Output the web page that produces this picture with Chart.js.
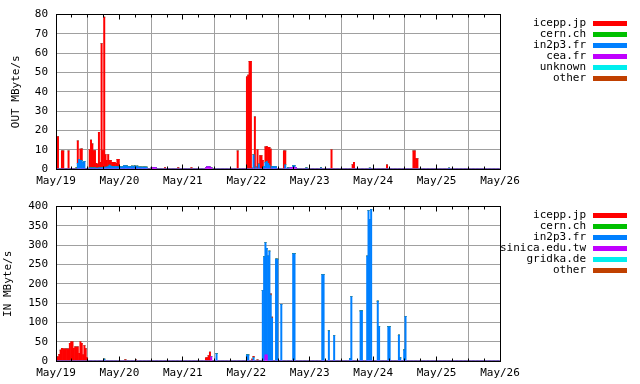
<!DOCTYPE html>
<html><head><meta charset="utf-8">
<script src="https://cdn.jsdelivr.net/npm/chart.js@4.4.1/dist/chart.umd.min.js"></script>
<style>
html,body{margin:0;padding:0;background:#fff;}
#wrap{position:relative;width:640px;height:384px;overflow:hidden;}
.box{position:absolute;left:0;width:640px;height:192px;}
canvas{display:block;}
</style></head><body>
<div id="wrap">
<div class="box" style="top:0"><canvas id="c1" width="640" height="192"></canvas></div>
<div class="box" style="top:192px"><canvas id="c2" width="640" height="192"></canvas></div>
</div>
<script>
// ---- data (30-minute bins, [start hour since May/19 00:00, MByte/s]) ----
const dayLabels = ['May/19','May/20','May/21','May/22','May/23','May/24','May/25','May/26'];
const outNames = ['icepp.jp','cern.ch','in2p3.fr','cea.fr','unknown','other'];
const inNames  = ['icepp.jp','cern.ch','in2p3.fr','sinica.edu.tw','gridka.de','other'];
const seriesColors = ['#ff0000','#00c000','#0080ff','#c000ff','#00eeee','#c04000'];

const outIcepp = [[0,6],[0.5,16.8],[2,9.4],[2.5,9.4],[4.5,9.4],[8,11.6],[9,5.8],[9.5,6.1],
 [12.5,9.4],[13,14.4],[13.5,12.4],[14,8.9],[14.5,8.9],[15,2.5],[15.5,2],[16,18.4],[16.5,2.9],[17,64.2],[17.5,8.7],[18,77.9],[18.5,6.5],[19,3.5],[19.5,6.3],[20,2.5],[20.5,3],[21,2.3],[21.5,2.2],[22,2.3],[22.5,1.7],[23,3.8],[23.5,3.9],
 [41,0.7],[46,0.7],[51,0.8],[68.5,9.4],
 [72,47.7],[72.5,48.6],[73,55.8],[73.5,55.8],[74,0.5],[75,27],[76,10],[77,7],[77.5,7],[78,4.5],[79,8],[79.5,8],[80,8.2],[80.5,9.2],[81,10.3],[86,9.4],[86.5,7.2],
 [104,10],[112,2.3],[112.5,3.4],[125,2.2],[135,9.4],[135.5,9.4],[136,5.4],[136.5,5.4]];
const outCern = [[7.5,0.6]];
const outIn2p3 = [[8,3],[8.5,5],[9,4.5],[9.5,4.3],[10,3.3],[10.5,4],
 [12.5,0.6],[13,0.6],[13.5,0.6],[14,0.6],[14.5,0.6],[15,0.5],[15.5,0.5],[16,0.6],[16.5,0.6],[17,0.8],[17.5,0.8],[18,0.8],[18.5,1],[19,1],[19.5,1.2],[20,2],[20.5,1.5],[21,1.2],[21.5,1.3],[22,1.2],[22.5,1.3],[23,1.2],[23.5,1.1],[24,1.2],[24.5,1],[25,1.3],[25.5,1.8],[26,1.8],[26.5,1.6],[27,1.2],[27.5,1.3],[28,1.1],[28.5,1.5],[29,1.2],[29.5,1.6],[30,1.3],[30.5,1.5],[31,1],[31.5,1],[32,1],[32.5,1],[33,1],[33.5,1],[34,1],
 [74.5,7.4],[75.5,1],[76.5,2.5],[78.5,1.2],[79,3.5],[79.5,3.8],[80,3],[80.5,2],[81.5,1.2],[82,1.2],[82.5,1.3],[83,1.3],[86.5,2.2],[87.5,0.6],[89.5,1.1],[90,1.1],[94.5,0.6],
 [100,0.6],[118.5,0.5],[148.5,0.5]];
const outCea = [[36,0.7],[36.5,0.7],[37,0.7],[37.5,0.7],[56.5,0.8],[57,1.2],[57.5,1.2],[58,1],[58.5,0.7],[88.5,0.7],[89,0.7],[89.5,0.7],[90,0.7],[90.5,0.7]];
const outUnknown = [];
const outOther = [];

const inIcepp = [[0,11],[0.5,11],[1,17],[1.5,28],[2,33],[2.5,31.6],[3,31.6],[3.5,31.6],[4,31.6],[4.5,31.6],[5,46],[5.5,50],[6,50],[6.5,33],[7,37],[7.5,37],[8,37],[8.5,20],[9,50],[9.5,46],[10,16],[10.5,40],[11,32],[11.5,9],
 [26,3.4],[30,3],[56.5,8],[57,9],[57.5,14],[58,23],
 [74,5],[74.5,3],[76,3],[81,3],[81.5,3]];
const inCern = [];
const inIn2p3 = [[18,5],[60.5,19],[72,16],[72.5,16],[74.5,9],
 [78,183],[78.5,270],[79,291],[79.5,276],[80,272],[80.5,285],[81,171],[81.5,111],
 [83,264],[83.5,264],[85,147],[89.5,278],[90,278],
 [100.5,224],[101,224],[103,78],[105,66],[111,6],[111.5,167],[115,130],[115.5,130],
 [117.5,272],[118,390],[118.5,367],[119,393],[121.5,155],[122,89],[125.5,89],[126,89],
 [129.5,67],[130,8],[131.5,29],[132,116]];
const inSinica = [[58.5,11],[79,16],[79.5,16]];
const inGridka = [];
const inOther = [];

const BIN_HOURS = 0.5, TOTAL_HOURS = 168;
const STACK_ORDER = [3,2,1,0,4,5]; // bottom -> top

Chart.defaults.font.family = "'DejaVu Sans Mono', monospace";
Chart.defaults.font.size = 11;
Chart.defaults.color = '#000';

function bins(pairs){
  const n = Math.round(TOTAL_HOURS / BIN_HOURS), arr = [];
  for (let i = 0; i < n; i++) arr.push({x: i*BIN_HOURS + BIN_HOURS/2, y: 0});
  pairs.forEach(([t, v]) => { arr[Math.round(t / BIN_HOURS)].y = v; });
  return arr;
}

const framePlugin = {
  id: 'frame',
  afterDatasetsDraw(chart){
    const {ctx, chartArea: a, scales: {x}} = chart;
    const al = p => Math.round(p - 0.5) + 0.5;
    ctx.save();
    ctx.strokeStyle = '#000'; ctx.lineWidth = 1;
    ctx.beginPath();
    for (let h = 0; h <= TOTAL_HOURS; h += 6) {
      const px = al(x.getPixelForValue(h));
      const len = (h % 24 === 0) ? 5 : 3;
      ctx.moveTo(px, al(a.bottom)); ctx.lineTo(px, al(a.bottom) - len);
      ctx.moveTo(px, al(a.top)); ctx.lineTo(px, al(a.top) + len);
    }
    ctx.stroke();
    ctx.strokeRect(al(a.left), al(a.top), al(a.right) - al(a.left), al(a.bottom) - al(a.top));
    ctx.restore();
  },
  afterDraw(chart, args, opts){
    const ctx = chart.ctx;
    ctx.save();
    ctx.font = "11px 'DejaVu Sans Mono'";
    ctx.textAlign = 'right'; ctx.textBaseline = 'middle';
    opts.names.forEach((n, i) => {
      const y = 23.5 + i * 11;
      ctx.fillStyle = '#000'; ctx.fillText(n, 586, y);
      ctx.fillStyle = seriesColors[i]; ctx.fillRect(593, Math.round(y) - 3, 34, 5);
    });
    ctx.restore();
  }
};

function makeChart(id, names, series, yMax, yStep, yTitle, titlePad, topPad){
  const datasets = STACK_ORDER.map(i => ({
    label: names[i], data: bins(series[i]), backgroundColor: seriesColors[i],
    borderWidth: 0, barPercentage: 1, categoryPercentage: 1
  }));
  return new Chart(document.getElementById(id), {
    type: 'bar',
    data: {datasets},
    options: {
      responsive: false, animation: false, devicePixelRatio: 1, events: [],
      layout: {padding: {top: topPad, right: 140, left: 0, bottom: 0}},
      plugins: {legend: {display: false}, tooltip: {enabled: false}, frame: {names}},
      scales: {
        x: {type: 'linear', min: 0, max: TOTAL_HOURS, stacked: true, offset: false,
            grid: {color: '#a0a0a0', drawTicks: false}, border: {display: false},
            ticks: {stepSize: 24, autoSkip: false, maxRotation: 0, padding: 6,
                    callback: v => dayLabels[Math.round(v / 24)]},
            afterFit: s => { s.height = 23; }},
        y: {min: 0, max: yMax, stacked: true,
            grid: {color: '#a0a0a0', drawTicks: false}, border: {display: false},
            ticks: {stepSize: yStep, padding: 8},
            title: {display: true, text: yTitle, padding: {top: titlePad, bottom: 0}},
            afterFit: s => { s.width = 56; }}
      }
    },
    plugins: [framePlugin]
  });
}

makeChart('c1', outNames, [outIcepp, outCern, outIn2p3, outCea, outUnknown, outOther], 80, 10, 'OUT MByte/s', 10, 14);
makeChart('c2', inNames, [inIcepp, inCern, inIn2p3, inSinica, inGridka, inOther], 400, 50, 'IN MByte/s', 2, 13);
</script>
</body></html>
